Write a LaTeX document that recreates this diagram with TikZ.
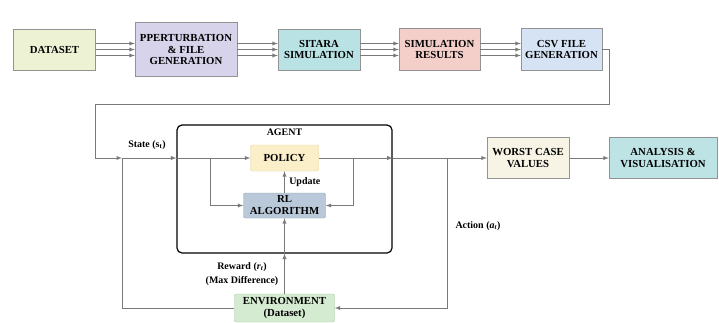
\documentclass[tikz,border=0pt]{standalone}
\usepackage{fontspec}
\setmainfont{Liberation Serif}
\usepackage{xcolor}
\usepackage{tikz}
\usetikzlibrary{arrows}

\definecolor{dataFill}{HTML}{EEF2D5}
\definecolor{pertFill}{HTML}{D6D3EA}
\definecolor{sitaFill}{HTML}{B8E2E4}
\definecolor{resFill}{HTML}{F4CFC9}
\definecolor{csvFill}{HTML}{D5E3F5}
\definecolor{worstFill}{HTML}{F7F4E6}
\definecolor{anaFill}{HTML}{BEE3E5}
\definecolor{polFill}{HTML}{FBEFC9}
\definecolor{polDraw}{HTML}{E3D09A}
\definecolor{rlFill}{HTML}{B9C9D9}
\definecolor{rlDraw}{HTML}{8FA1B3}
\definecolor{envFill}{HTML}{D5EBD1}
\definecolor{envDraw}{HTML}{A5C6A1}
\definecolor{lineGray}{HTML}{7A7A7A}

\begin{document}
\begin{tikzpicture}[x=1bp,y=-1bp]

\tikzset{stage/.style={
    draw=gray!85, fill=#1, align=center, inner sep=1pt,
    font=\bfseries\fontsize{10.8}{12}\selectfont
  },
  flow/.style={draw=lineGray, line width=0.9pt, >=latex},
  tag/.style={font=\bfseries\fontsize{10}{14}\selectfont, align=center}
}
\useasboundingbox (0,0) rectangle (719,322);

% pipeline on top
\node[stage=dataFill, minimum width=82bp, minimum height=41bp] (dataset) at (54.5,49.5) {DATASET};
\node[stage=pertFill, minimum width=102bp, minimum height=54bp] (perturb) at (186,49.5) {PPERTURBATION\\\& FILE\\GENERATION};
\node[stage=sitaFill, minimum width=82bp, minimum height=41bp] (sitara) at (319,49.5) {SITARA\\SIMULATION};
\node[stage=resFill, minimum width=81bp, minimum height=42bp] (simres) at (439.5,49.5) {SIMULATION\\RESULTS};
\node[stage=csvFill, minimum width=81bp, minimum height=42bp] (csv) at (561.5,49.5) {CSV FILE\\GENERATION};

\foreach \a/\b in {dataset/perturb, perturb/sitara, sitara/simres, simres/csv}
  \foreach \dy in {-6,0,6}
    \draw[flow,->] ([yshift=\dy bp]\a.east) -- ([yshift=\dy bp]\b.west);

% agent
\node[draw=black, line width=1.2pt, rounded corners=5bp, minimum width=215bp, minimum height=128bp] (agent) at (284.5,189) {};
\node[tag, anchor=north] (agentlbl) at ([yshift=-1bp]agent.north) {AGENT};
\node[stage=polFill, draw=polDraw, rounded corners=2bp, minimum width=68bp, minimum height=26bp] (policy) at (284.5,158) {POLICY};
\node[stage=rlFill, draw=rlDraw, rounded corners=2bp, minimum width=82bp, minimum height=25bp] (rl) at (284.5,205.5) {RL\\ALGORITHM};
\node[stage=envFill, draw=envDraw, rounded corners=2bp, minimum width=100bp, minimum height=28bp] (env) at (284.5,308) {ENVIRONMENT\\(Dataset)};

% results
\node[stage=worstFill, minimum width=82bp, minimum height=41bp] (worst) at (528,158) {WORST CASE\\VALUES};
\node[stage=anaFill, minimum width=108bp, minimum height=41bp] (analysis) at (663,158) {ANALYSIS \&\\VISUALISATION};

\coordinate (turn) at (609,104);
\coordinate (back) at (95,104);
\coordinate (stin) at (95,158);
\coordinate (join) at (122,158);
\coordinate (ain) at (agent.west |- policy.west);
\coordinate (aout) at (agent.east |- policy.east);
\coordinate (b1) at (210,158);
\coordinate (b2) at (353,158);
\coordinate (b3) at (447,158);
\coordinate (rbot) at (env.north |- agent.south);

\draw[flow] (csv.east) -| (turn) -- (back) -- (stin);
\draw[flow,->] (stin) -- (join);
\draw[flow,->] (join) -- (ain);
\draw[flow,->] (ain) -- (policy.west);
\draw[flow,->] (b1) |- (rl.west);
\draw[flow,->] (b2) |- (rl.east);
\draw[flow,->] (policy.east) -- (aout);
\draw[flow,->] (aout) -- (worst.west);
\draw[flow,->] (worst.east) -- (analysis.west);
\draw[flow,->] (b3) |- (env.east);
\draw[flow] (env.west) -| (join);
\draw[flow,->] (env.north) -- (rbot);
\draw[flow,->] (rbot) -- (rl.south);
\draw[flow,->] (rl.north) -- (policy.south) node[tag, midway, right=1bp] (upd) {Update};

\node[tag] (state) at (147,145) {State (s\textsubscript{t})};
\node[tag] (action) at (478,226) {Action (\textit{a}\textsubscript{\textit{t}})};
\node[tag] (reward) at (242,274) {Reward (\textit{r}\textsubscript{\textit{t}})\\(Max Difference)};

\end{tikzpicture}
\end{document}
